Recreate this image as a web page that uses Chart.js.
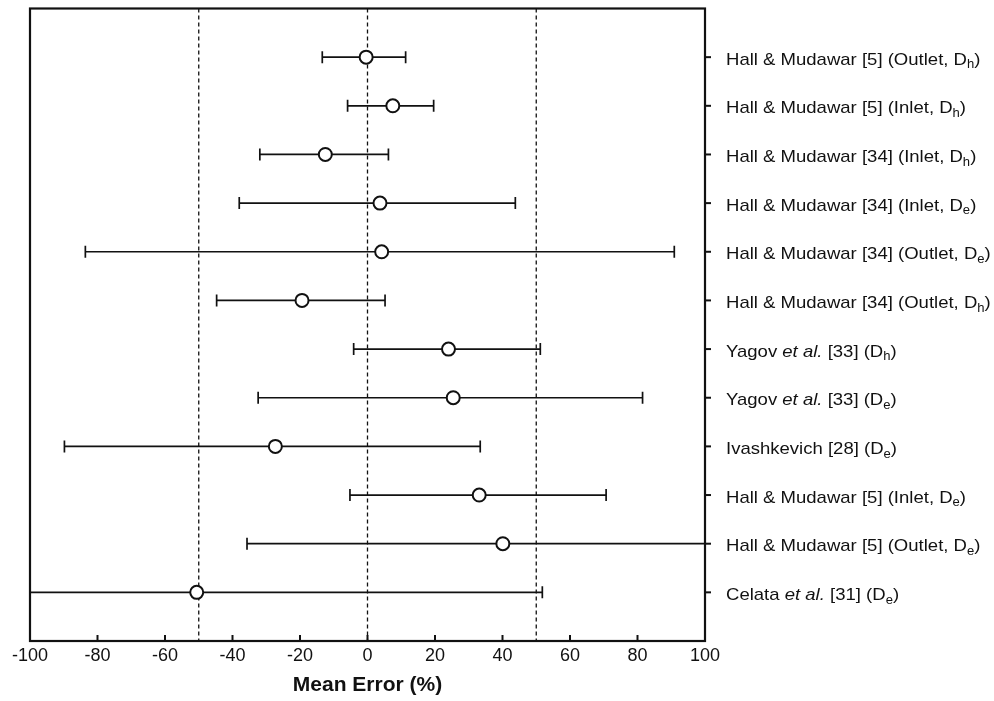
<!DOCTYPE html>
<html>
<head>
<meta charset="utf-8">
<script src="https://cdn.jsdelivr.net/npm/chart.js@4.4.1/dist/chart.umd.min.js"></script>
<style>
  html, body { margin: 0; padding: 0; background: #fff; }
</style>
</head>
<body>
<canvas id="errChart" width="994" height="701"></canvas>
<script>
// rows, top to bottom. *text* = italic, _x = subscript
const rowLabels = [
  'Hall & Mudawar [5] (Outlet, D_h)',
  'Hall & Mudawar [5] (Inlet, D_h)',
  'Hall & Mudawar [34] (Inlet, D_h)',
  'Hall & Mudawar [34] (Inlet, D_e)',
  'Hall & Mudawar [34] (Outlet, D_e)',
  'Hall & Mudawar [34] (Outlet, D_h)',
  'Yagov *et al.* [33] (D_h)',
  'Yagov *et al.* [33] (D_e)',
  'Ivashkevich [28] (D_e)',
  'Hall & Mudawar [5] (Inlet, D_e)',
  'Hall & Mudawar [5] (Outlet, D_e)',
  'Celata *et al.* [31] (D_e)'
];
const rowPos    = [12, 11, 10, 9, 8, 7, 6, 5, 4, 3, 2, 1];
const meanError = [-0.4, 7.5, -12.5, 3.7, 4.2, -19.4, 24.0, 25.4, -27.3, 33.1, 40.1, -50.6];
const errLow    = [-13.4, -5.9, -31.9, -38.0, -83.6, -44.7, -4.1, -32.4, -89.8, -5.2, -35.7, -106];
const errHigh   = [11.3, 19.6, 6.2, 43.8, 90.9, 5.2, 51.2, 81.5, 33.4, 70.7, 104, 51.8];
const refLines  = [-50, 0, 50];
const xTicks    = [-100, -80, -60, -40, -20, 0, 20, 40, 60, 80, 100];

const INK = '#111';
const FONT = '"Liberation Sans", Arial, Helvetica, sans-serif';

function line(ctx, x1, y1, x2, y2) {
  ctx.beginPath();
  ctx.moveTo(x1, y1);
  ctx.lineTo(x2, y2);
  ctx.stroke();
}

// draws a label with italic and subscript parts (slightly widened like the scan)
function drawRichLabel(ctx, text, x, y) {
  const parts = text.split(/(\*[^*]+\*|_[a-z])/).filter(p => p.length);
  ctx.save();
  ctx.translate(x, y);
  ctx.scale(1.09, 1);
  let cx = 0;
  ctx.textBaseline = 'middle';
  ctx.textAlign = 'left';
  parts.forEach(p => {
    let dy = 0;
    if (p.startsWith('*')) {
      p = p.slice(1, -1);
      ctx.font = 'italic 17px ' + FONT;
    } else if (p.startsWith('_')) {
      p = p.slice(1);
      ctx.font = '12px ' + FONT;
      dy = 5;
    } else {
      ctx.font = '17px ' + FONT;
    }
    ctx.fillText(p, cx, dy);
    cx += ctx.measureText(p).width;
  });
  ctx.restore();
}

const errorBarPlugin = {
  id: 'errorBars',
  beforeDatasetsDraw(chart) {
    const { ctx, chartArea: a, scales: { x, y } } = chart;
    ctx.save();
    ctx.strokeStyle = INK;

    // dashed reference lines
    ctx.lineWidth = 1.3;
    ctx.setLineDash([4, 3]);
    refLines.forEach(v => {
      const px = x.getPixelForValue(v);
      line(ctx, px, a.top, px, a.bottom);
    });
    ctx.setLineDash([]);

    // error bars
    ctx.beginPath();
    ctx.rect(a.left, a.top, a.right - a.left, a.bottom - a.top);
    ctx.clip();
    ctx.lineWidth = 1.7;
    rowPos.forEach((r, i) => {
      const py = y.getPixelForValue(r);
      const x1 = x.getPixelForValue(errLow[i]);
      const x2 = x.getPixelForValue(errHigh[i]);
      line(ctx, x1, py, x2, py);
      [x1, x2].forEach(px => {
        if (px > a.left + 1 && px < a.right - 1) line(ctx, px, py - 6, px, py + 6);
      });
    });
    ctx.restore();
  },
  afterDraw(chart) {
    const { ctx, chartArea: a, scales: { x, y } } = chart;
    ctx.save();
    ctx.strokeStyle = INK;
    ctx.fillStyle = INK;

    // frame
    ctx.lineWidth = 2.2;
    ctx.strokeRect(a.left, a.top, a.right - a.left, a.bottom - a.top);

    // inward ticks on the x axis
    ctx.lineWidth = 2;
    xTicks.forEach(v => {
      const px = x.getPixelForValue(v);
      line(ctx, px, a.bottom, px, a.bottom - 6);
    });

    // outward ticks and labels on the right
    rowPos.forEach((r, i) => {
      const py = y.getPixelForValue(r);
      line(ctx, a.right, py, a.right + 6, py);
      drawRichLabel(ctx, rowLabels[i], a.right + 21, py + 3);
    });
    ctx.restore();
  }
};

new Chart(document.getElementById('errChart'), {
  type: 'scatter',
  data: {
    datasets: [{
      data: meanError.map((v, i) => ({ x: v, y: rowPos[i] })),
      pointRadius: 6.5,
      pointHoverRadius: 6.5,
      pointBorderWidth: 2,
      borderColor: INK,
      backgroundColor: '#fff',
      clip: false
    }]
  },
  options: {
    responsive: false,
    animation: false,
    events: [],
    layout: { padding: { top: 7, left: 30, right: 289, bottom: 0 } },
    plugins: { legend: { display: false }, tooltip: { enabled: false } },
    scales: {
      x: {
        type: 'linear',
        min: -100,
        max: 100,
        afterBuildTicks(scale) { scale.ticks = xTicks.map(v => ({ value: v })); },
        afterFit(scale) { scale.height = 60; },
        grid: { display: false, drawTicks: false },
        border: { display: false },
        ticks: { color: INK, font: { family: FONT, size: 18 }, padding: 4, maxRotation: 0 },
        title: {
          display: true,
          text: 'Mean Error (%)',
          color: INK,
          font: { family: FONT, size: 21, weight: 'bold' },
          padding: { top: 0, bottom: 3 }
        }
      },
      y: {
        type: 'linear',
        min: 0,
        max: 13,
        display: false
      }
    }
  },
  plugins: [errorBarPlugin]
});
</script>
</body>
</html>
